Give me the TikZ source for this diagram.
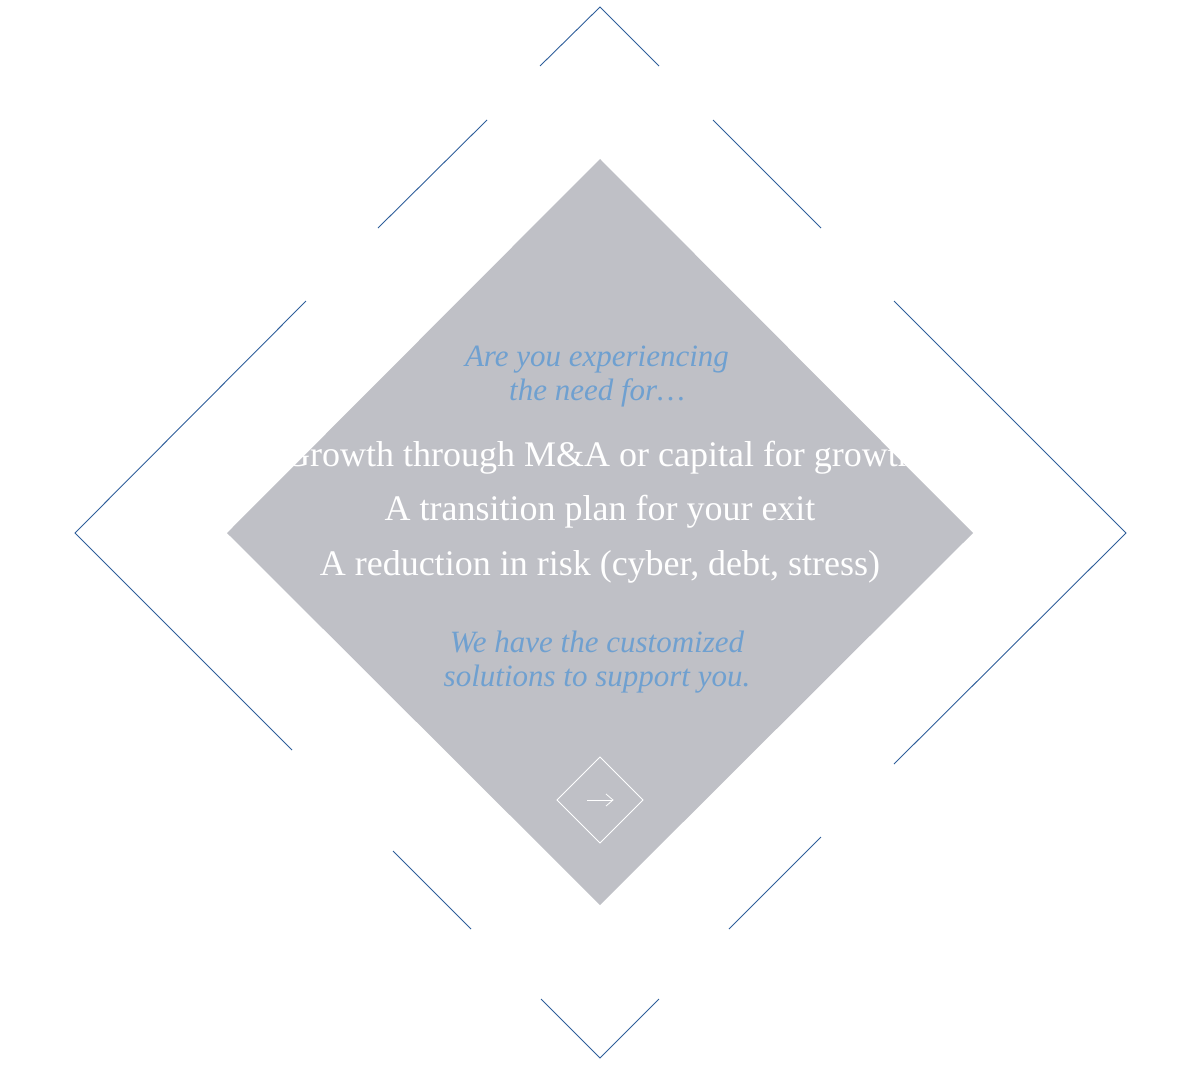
\documentclass[tikz,border=0pt]{standalone}
\usepackage{fontspec}
\setmainfont{Liberation Serif}
\definecolor{dgray}{HTML}{BFC0C6}
\definecolor{lblue}{HTML}{2E5E9A}
\definecolor{tblue}{HTML}{6FA0D0}
\begin{document}
\begin{tikzpicture}[x=1pt,y=-1pt,
  bline/.style={draw=lblue,line width=0.9pt},
  ital/.style={text=tblue,font=\fontsize{31}{34}\selectfont\itshape,align=center},
  main/.style={text=white,font=\fontsize{36}{40}\selectfont}]
\useasboundingbox (0,0) rectangle (1201,1066);
\fill[dgray] (600,159) -- (973,533) -- (600,905) -- (227,533) -- cycle;
\draw[bline] (540,66) -- (600,7) -- (659,66);
\draw[bline] (378,228) -- (487,120);
\draw[bline] (713,120) -- (821,228);
\draw[bline] (306,301) -- (75,533) -- (292,750);
\draw[bline] (894,301) -- (1126,533) -- (894,764);
\draw[bline] (393,851) -- (471,929);
\draw[bline] (729,929) -- (821,837);
\draw[bline] (541,999) -- (600,1058) -- (659,999);
\node[ital] (q) at (597,377) {Are you experiencing\\the need for…};
\node[main] (l1) at (600,458) {Growth through M\&A or capital for growth};
\node[main] (l2) at (600,512) {A transition plan for your exit};
\node[main] (l3) at (600,567) {A reduction in risk (cyber, debt, stress)};
\node[ital] (s) at (597,662) {We have the customized\\solutions to support you.};
\draw[white,line width=0.8pt] (600,757) -- (643,800) -- (600,843) -- (557,800) -- cycle;
\coordinate (a1) at (587,800);
\coordinate (a2) at (613,800);
\draw[white,line width=0.8pt] (a1) -- (a2);
\draw[white,line width=0.8pt] (606,794) -- (a2) -- (606,806);
\end{tikzpicture}
\end{document}
